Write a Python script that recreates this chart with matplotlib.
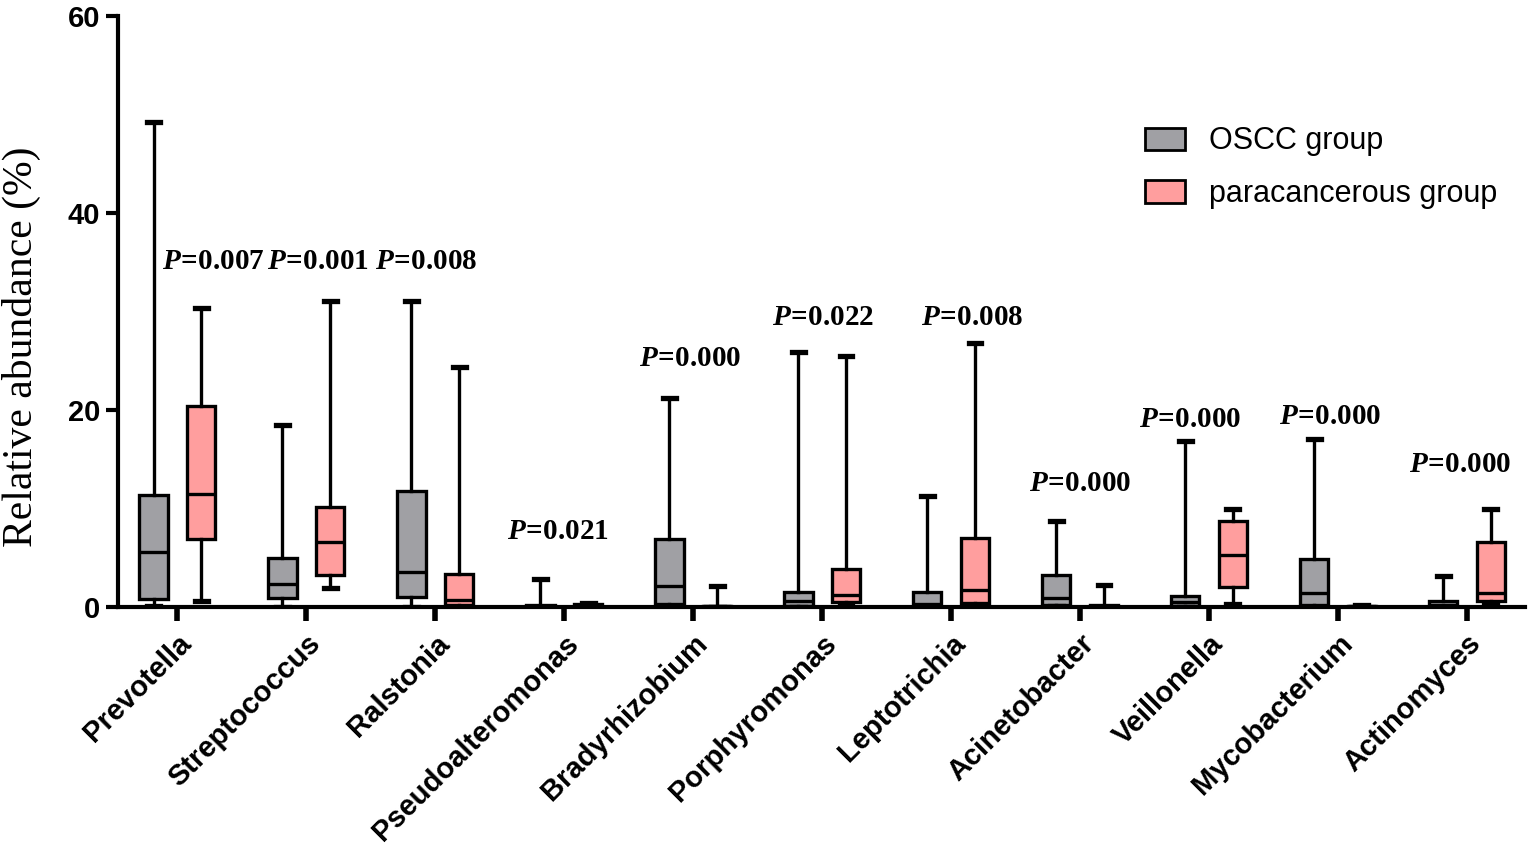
import matplotlib
matplotlib.use('Agg')
import matplotlib.pyplot as plt
from matplotlib.patches import Patch

plt.rcParams['mathtext.fontset'] = 'custom'
plt.rcParams['mathtext.rm'] = 'Liberation Serif'
plt.rcParams['mathtext.bf'] = 'Liberation Serif:bold'
plt.rcParams['mathtext.bfit'] = 'Liberation Serif:bold:italic'
plt.rcParams['mathtext.it'] = 'Liberation Serif:italic'

# genera on the x axis
genera = ['Prevotella', 'Streptococcus', 'Ralstonia', 'Pseudoalteromonas',
          'Bradyrhizobium', 'Porphyromonas', 'Leptotrichia', 'Acinetobacter',
          'Veillonella', 'Mycobacterium', 'Actinomyces']

# box stats: min, q1, median, q3, max (relative abundance %)
oscc_min = [0.1, 0.05, 0.05, 0.0, 0.0, 0.0, 0.0, 0.1, 0.0, 0.0, 0.0]
oscc_q1 = [0.8, 0.9, 1.0, 0.05, 0.3, 0.1, 0.05, 0.2, 0.1, 0.2, 0.05]
oscc_med = [5.6, 2.4, 3.6, 0.1, 2.1, 0.6, 0.3, 0.9, 0.5, 1.4, 0.2]
oscc_q3 = [11.4, 5.0, 11.8, 0.2, 6.9, 1.5, 1.5, 3.3, 1.1, 4.9, 0.6]
oscc_max = [49.3, 18.5, 31.1, 2.9, 21.2, 25.9, 11.3, 8.7, 16.9, 17.1, 3.2]

para_min = [0.6, 1.9, 0.0, 0.05, 0.0, 0.2, 0.1, 0.0, 0.3, 0.0, 0.3]
para_q1 = [6.9, 3.3, 0.2, 0.1, 0.05, 0.5, 0.4, 0.05, 2.0, 0.05, 0.6]
para_med = [11.5, 6.6, 0.75, 0.2, 0.1, 1.2, 1.7, 0.1, 5.3, 0.1, 1.4]
para_q3 = [20.4, 10.2, 3.4, 0.3, 0.15, 3.9, 7.0, 0.2, 8.7, 0.15, 6.6]
para_max = [30.4, 31.1, 24.4, 0.4, 2.1, 25.5, 26.8, 2.3, 10.0, 0.2, 10.0]

p_values = ['0.007', '0.001', '0.008', '0.021', '0.000', '0.022', '0.008',
            '0.000', '0.000', '0.000', '0.000']
# height (in data units) at which each P label sits
p_label_y = [35.1, 35.1, 35.1, 7.7, 25.3, 29.5, 29.5, 12.6, 19.1, 19.4, 14.5]
p_label_dx = [0.28, 0.09, -0.07, -0.05, -0.02, 0.01, 0.16, 0.0, -0.15, -0.06, -0.05]

gray = '#a0a0a4'
pink = '#ff9e9e'


def make_stats(lo, q1, med, q3, hi):
    out = []
    for i in range(len(lo)):
        out.append({'whislo': lo[i], 'q1': q1[i], 'med': med[i],
                    'q3': q3[i], 'whishi': hi[i], 'fliers': []})
    return out


fig = plt.figure(figsize=(15.35, 8.48), dpi=100)
ax = fig.add_axes([0.0769, 0.284, 0.9166, 0.697])

pos = list(range(len(genera)))
off = 0.185
lw = 2.4
for stats, color, sign in [(make_stats(oscc_min, oscc_q1, oscc_med, oscc_q3, oscc_max), gray, -1),
                           (make_stats(para_min, para_q1, para_med, para_q3, para_max), pink, 1)]:
    ax.bxp(stats, positions=[p + sign * off for p in pos], widths=0.22,
           capwidths=0.1, patch_artist=True, showfliers=False,
           boxprops=dict(facecolor=color, edgecolor='black', linewidth=lw),
           medianprops=dict(color='black', linewidth=lw),
           whiskerprops=dict(color='black', linewidth=lw),
           capprops=dict(color='black', linewidth=lw + 1.4),
           manage_ticks=False)

for i in range(len(genera)):
    ax.text(pos[i] + p_label_dx[i], p_label_y[i],
            r'$\mathbfit{P}\!\mathbf{=}\!\mathbf{' + p_values[i] + '}$',
            ha='center', va='center', fontsize=21)

ax.set_xlim(-0.46, 10.45)
ax.set_ylim(0, 60)
ax.set_yticks([0, 20, 40, 60])
ax.set_xticks(pos)
ax.set_xticklabels(genera, rotation=45, ha='right', rotation_mode='anchor',
                   fontsize=21, fontweight='bold', family='Liberation Sans')
for lab in ax.get_yticklabels():
    lab.set_fontsize(21)
    lab.set_fontweight('bold')
    lab.set_family('Liberation Sans')
ax.tick_params(axis='x', length=10, width=4, pad=6)
ax.tick_params(axis='y', length=9, width=3, pad=4)
for s in ['top', 'right']:
    ax.spines[s].set_visible(False)
for s in ['left', 'bottom']:
    ax.spines[s].set_linewidth(3)
ax.set_ylabel('Relative abundance (%)', fontsize=30, family='Liberation Serif')
ax.yaxis.set_label_coords(-0.055, 0.44)

handles = [Patch(facecolor=gray, edgecolor='black', linewidth=2, label='OSCC group'),
           Patch(facecolor=pink, edgecolor='black', linewidth=2, label='paracancerous group')]
ax.legend(handles=handles, loc='upper right', bbox_to_anchor=(1.0, 0.86),
          frameon=False, prop={'family': 'Liberation Sans', 'size': 22},
          handlelength=1.3, handleheight=0.75, handletextpad=0.8, labelspacing=0.75)

fig.savefig('out.png', dpi=100)
